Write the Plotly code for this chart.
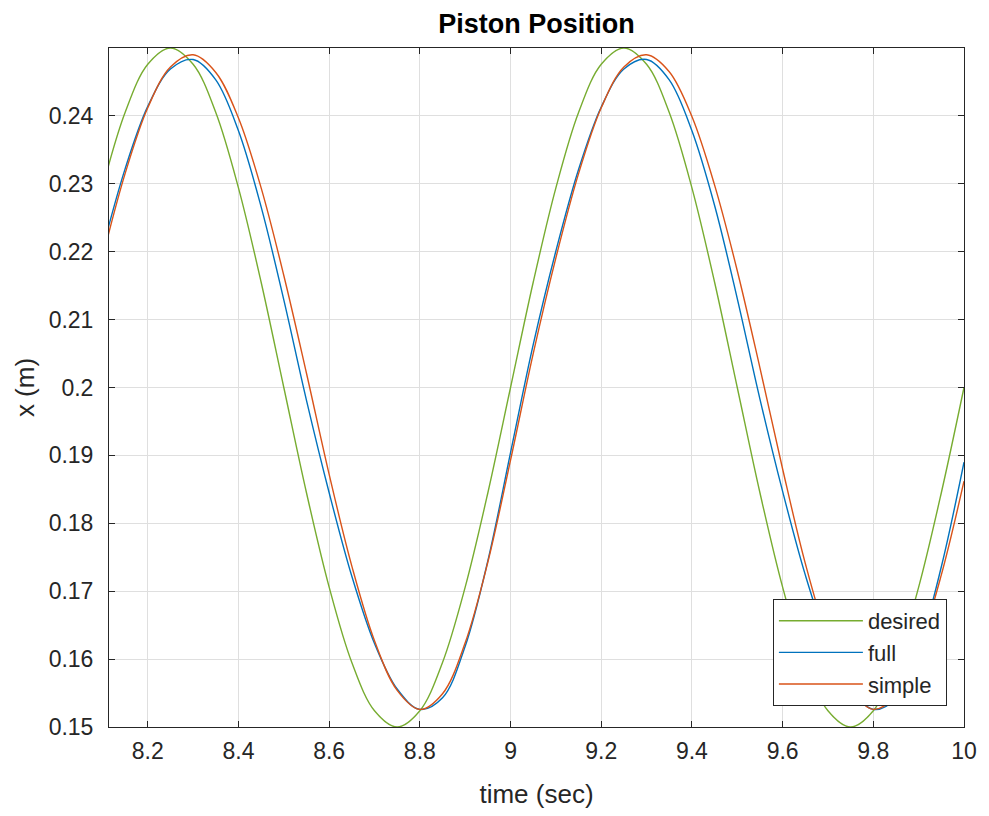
import plotly.graph_objects as go

# time samples (s)
time = [8.10, 8.15, 8.20, 8.25, 8.30, 8.35, 8.40, 8.45, 8.50, 8.55,
        8.60, 8.65, 8.70, 8.75, 8.80, 8.85, 8.90, 8.95, 9.00, 9.05,
        9.10, 9.15, 9.20, 9.25, 9.30, 9.35, 9.40, 9.45, 9.50, 9.55,
        9.60, 9.65, 9.70, 9.75, 9.80, 9.85, 9.90, 9.95, 10.00]

desired = [0.2294, 0.2405, 0.2476, 0.2500, 0.2476, 0.2405, 0.2294, 0.2155, 0.2000, 0.1845,
           0.1706, 0.1595, 0.1524, 0.1500, 0.1524, 0.1595, 0.1706, 0.1845, 0.2000, 0.2155,
           0.2294, 0.2405, 0.2476, 0.2500, 0.2476, 0.2405, 0.2294, 0.2155, 0.2000, 0.1845,
           0.1706, 0.1595, 0.1524, 0.1500, 0.1524, 0.1595, 0.1706, 0.1845, 0.2000]

full = [0.2203, 0.2322, 0.2414, 0.2469, 0.2483, 0.2453, 0.2378, 0.2266, 0.2129, 0.1981,
        0.1845, 0.1722, 0.1623, 0.1556, 0.1526, 0.1543, 0.1619, 0.1745, 0.1904, 0.2063,
        0.2201, 0.2321, 0.2413, 0.2469, 0.2483, 0.2453, 0.2378, 0.2268, 0.2131, 0.1983,
        0.1847, 0.1724, 0.1624, 0.1556, 0.1526, 0.1542, 0.1615, 0.1736, 0.1890]

simple = [0.2191, 0.2315, 0.2412, 0.2472, 0.2490, 0.2464, 0.2397, 0.2294, 0.2165, 0.2021,
          0.1872, 0.1737, 0.1627, 0.1554, 0.1526, 0.1549, 0.1624, 0.1743, 0.1893, 0.2050,
          0.2191, 0.2315, 0.2412, 0.2472, 0.2490, 0.2465, 0.2399, 0.2298, 0.2172, 0.2029,
          0.1880, 0.1741, 0.1629, 0.1555, 0.1526, 0.1546, 0.1615, 0.1724, 0.1862]

x_ticks = [8.2, 8.4, 8.6, 8.8, 9.0, 9.2, 9.4, 9.6, 9.8, 10.0]
x_tick_text = ["8.2", "8.4", "8.6", "8.8", "9", "9.2", "9.4", "9.6", "9.8", "10"]
y_ticks = [0.15, 0.16, 0.17, 0.18, 0.19, 0.20, 0.21, 0.22, 0.23, 0.24]
y_tick_text = ["0.15", "0.16", "0.17", "0.18", "0.19", "0.2", "0.21", "0.22", "0.23", "0.24"]

FONT = "Liberation Sans, Arial, sans-serif"
AX = "#262626"
GRID = "#dfdfdf"

fig = go.Figure()
fig.add_trace(go.Scatter(x=time, y=desired, name="desired", mode="lines",
                         line=dict(color="#77AC30", width=1.4, shape="spline")))
fig.add_trace(go.Scatter(x=time, y=full, name="full", mode="lines",
                         line=dict(color="#0072BD", width=1.4, shape="spline")))
fig.add_trace(go.Scatter(x=time, y=simple, name="simple", mode="lines",
                         line=dict(color="#D95319", width=1.4, shape="spline")))

axis_common = dict(showline=True, linecolor=AX, linewidth=1, mirror="ticks",
                   ticks="inside", ticklen=6, tickcolor=AX, tickwidth=1,
                   showgrid=True, gridcolor=GRID, gridwidth=1, zeroline=False,
                   tickfont=dict(family=FONT, size=23, color=AX))

fig.update_xaxes(range=[8.1145, 10.0], tickvals=x_ticks, ticktext=x_tick_text,
                 ticklabelstandoff=3,
                 title=dict(text="time (sec)", font=dict(family=FONT, size=26, color=AX),
                            standoff=22),
                 **axis_common)
fig.update_yaxes(range=[0.15, 0.25], tickvals=y_ticks, ticktext=y_tick_text,
                 ticklabelstandoff=10,
                 title=dict(text="x (m)", font=dict(family=FONT, size=26, color=AX),
                            standoff=6),
                 **axis_common)

fig.update_layout(
    width=989, height=816,
    margin=dict(l=109, r=20, t=48, b=89),
    paper_bgcolor="white", plot_bgcolor="white",
    title=dict(text="<b>Piston Position</b>", x=0.5, xanchor="center",
               xref="paper", y=1 - 24 / 816, yanchor="middle",
               font=dict(family=FONT, size=27, color="black")),
    legend=dict(x=0.980, y=0.031, xanchor="right", yanchor="bottom",
                bgcolor="white", bordercolor=AX, borderwidth=1,
                font=dict(family=FONT, size=22, color=AX),
                itemwidth=84, tracegroupgap=0),
    showlegend=True,
)

fig.write_html("out.html")
